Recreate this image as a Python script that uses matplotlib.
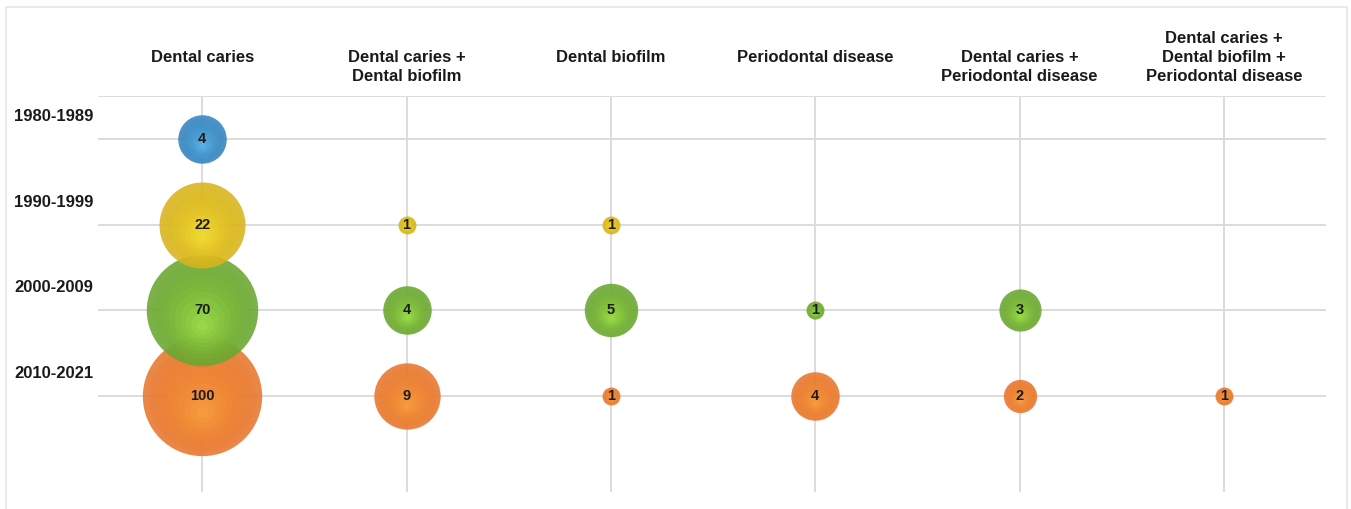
import numpy as np
import matplotlib
matplotlib.use('Agg')
from matplotlib import pyplot as plt
from matplotlib import transforms
from matplotlib.colors import to_rgb
from matplotlib.patches import Rectangle

plt.rcParams['font.family'] = ['Liberation Sans', 'DejaVu Sans']

topics = ['Dental caries', 'Dental caries +\nDental biofilm', 'Dental biofilm',
          'Periodontal disease', 'Dental caries +\nPeriodontal disease',
          'Dental caries +\nDental biofilm +\nPeriodontal disease']
periods = ['1980-1989', '1990-1999', '2000-2009', '2010-2021']

# counts per period (row) and topic (column), 0 = no bubble
counts_1980 = [4, 0, 0, 0, 0, 0]
counts_1990 = [22, 1, 1, 0, 0, 0]
counts_2000 = [70, 4, 5, 1, 3, 0]
counts_2010 = [100, 9, 1, 4, 2, 1]
counts = [counts_1980, counts_1990, counts_2000, counts_2010]

edge_colors = ['#3584c0', '#d9b41c', '#6aa731', '#e8772c']
light_colors = ['#6cc6f0', '#fbeb3c', '#b0f052', '#ffab48']

dpi = 100
fig = plt.figure(figsize=(13.51, 5.09), dpi=dpi)
fig.patches.append(Rectangle((6/1351, -0.01), 1341/1351, 1 - 7/509 + 0.01,
                             transform=fig.transFigure, fill=False,
                             edgecolor='#e6e6e6', linewidth=1.2))
ax = fig.add_axes([98/1351, 1 - 492/509, 1228/1351, 396/509])
ax.set_xlim(-0.51, 5.5)
ax.set_ylim(4.12, -0.5)
for s in ax.spines.values():
    s.set_visible(False)
ax.set_xticks([])
ax.set_yticks([])

grid_c = '#dcdcdc'
for j in range(len(topics)):
    ax.axvline(j, color=grid_c, lw=1.4, zorder=0)
ax.axhline(-0.5, color=grid_c, lw=1.4, zorder=0)
for i in range(len(periods)):
    ax.axhline(i, color=grid_c, lw=1.4, zorder=0)


def mix(c1, c2, t):
    a, b = np.array(to_rgb(c1)), np.array(to_rgb(c2))
    return tuple(a + (b - a) * t)


nl = 10
for i, row in enumerate(counts):
    z = 10 * (len(counts) - i)
    for j, v in enumerate(row):
        if v == 0:
            continue
        r_px = 9 + 11 * np.log(v)
        r_pt = r_px * 72 / dpi
        ax.scatter([j], [i], s=(2 * r_pt) ** 2, color=edge_colors[i],
                   alpha=0.88, linewidths=0, zorder=z)
        for k in range(1, nl):
            f = 1 - k / nl
            off = transforms.offset_copy(ax.transData, fig=fig, x=0,
                                         y=-(1 - f) * 0.3 * r_pt, units='points')
            ax.scatter([j], [i], s=(2 * r_pt * f) ** 2,
                       color=mix(edge_colors[i], light_colors[i], k / nl),
                       alpha=0.3, linewidths=0, zorder=z + 0.1, transform=off)
        ax.text(j, i, str(v), ha='center', va='center', fontsize=10.5,
                fontweight='bold', color='#1c1c1c', zorder=z + 0.5)

# column headers
hdr = ax.get_xaxis_transform()
for j, t in enumerate(topics):
    n = t.count('\n') + 1
    y_px = 65.5 if n == 1 else 84.5
    ax.text(j, (492 - y_px) / 396, t, transform=hdr, ha='center', va='bottom',
            fontsize=12, fontweight='bold', color='#1a1a1a', linespacing=1.35)

# row labels
rowt = transforms.blended_transform_factory(fig.transFigure, ax.transData)
for i, p in enumerate(periods):
    ax.text(14 / 1351, i - 0.26, p, transform=rowt, ha='left', va='center',
            fontsize=12, fontweight='bold', color='#1a1a1a')

fig.savefig('out.png', dpi=dpi)
